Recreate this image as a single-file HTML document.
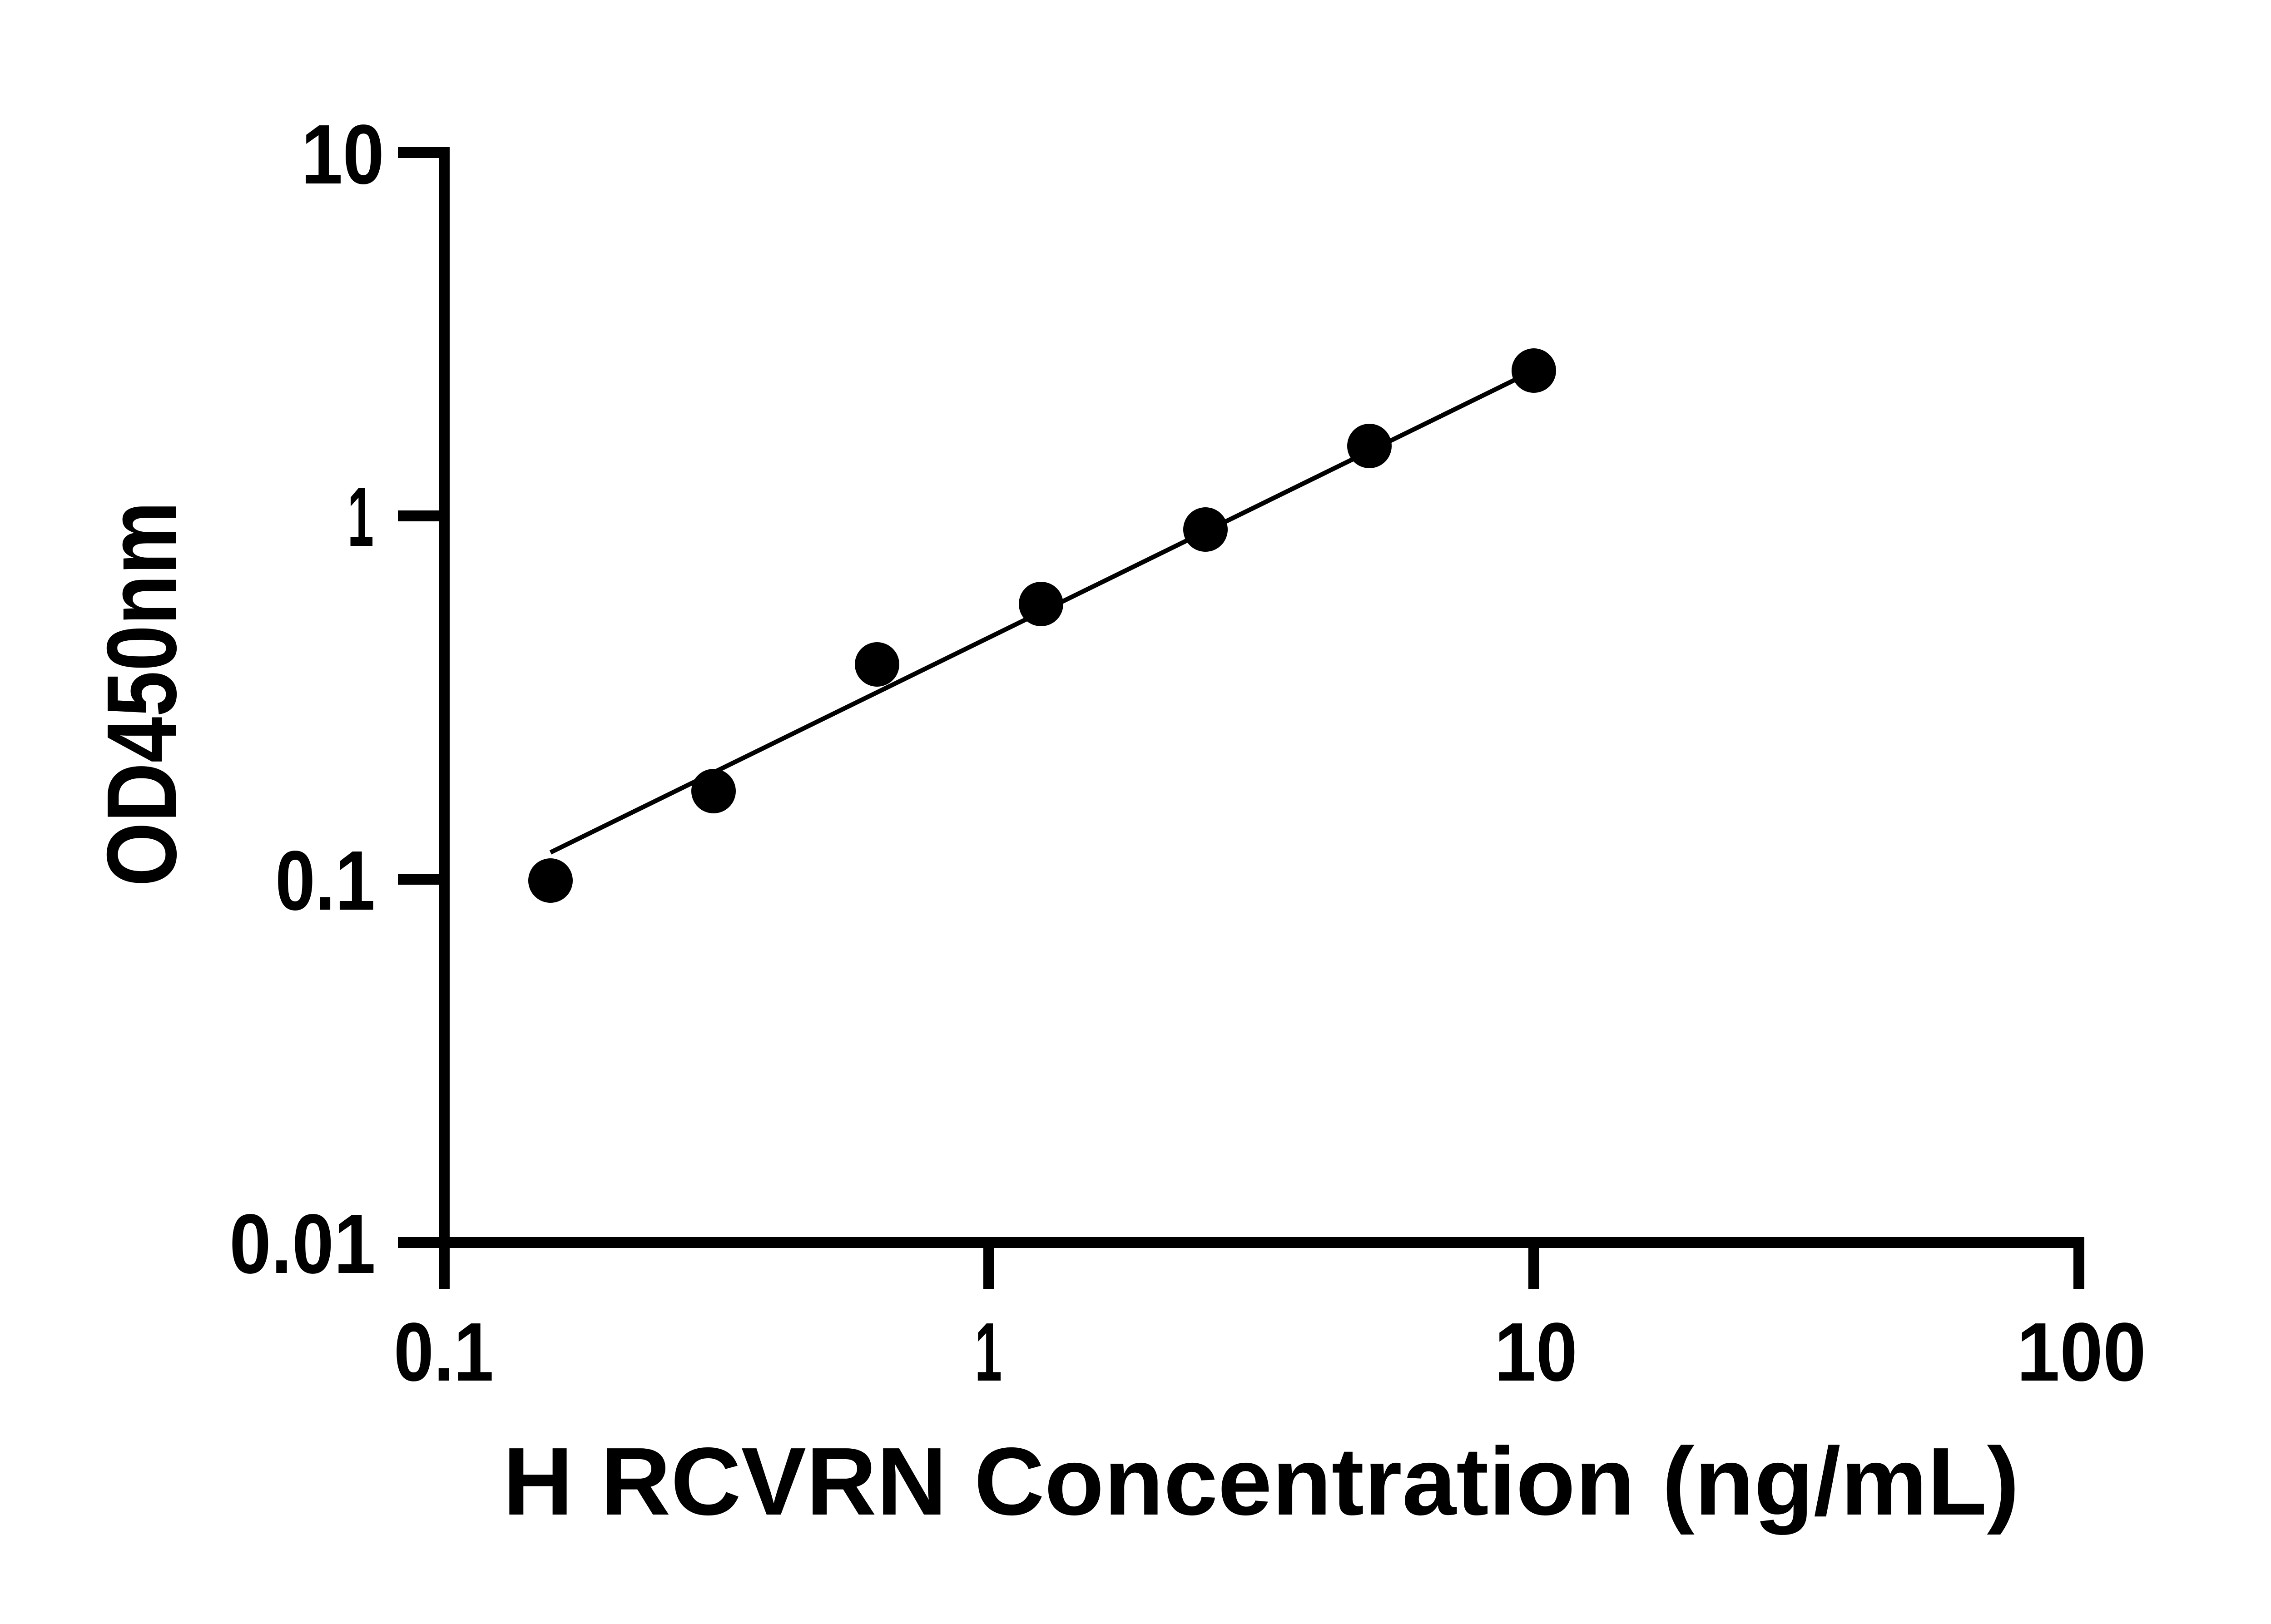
<!DOCTYPE html>
<html><head><meta charset="utf-8"><style>
html,body{margin:0;padding:0;background:#fff;}
svg{display:block;}
text{font-family:"Liberation Sans","DejaVu Sans",sans-serif;font-weight:bold;fill:#000;}
</style></head><body>
<svg width="5130" height="3576" viewBox="0 0 5130 3576" xmlns="http://www.w3.org/2000/svg">
<rect width="5130" height="3576" fill="#fff"/>
<!-- y axis -->
<rect x="966" y="324" width="24" height="2514" fill="#000"/>
<rect x="876" y="324" width="114" height="24" fill="#000"/>
<rect x="876" y="1124" width="100" height="24" fill="#000"/>
<rect x="876" y="1924" width="100" height="24" fill="#000"/>
<rect x="876" y="2724" width="100" height="24" fill="#000"/>
<!-- x axis -->
<rect x="966" y="2724" width="3623" height="24" fill="#000"/>
<rect x="966" y="2724" width="24" height="114" fill="#000"/>
<rect x="2165" y="2724" width="24" height="114" fill="#000"/>
<rect x="3365" y="2724" width="24" height="114" fill="#000"/>
<rect x="4565" y="2724" width="24" height="114" fill="#000"/>
<!-- y tick labels -->
<text x="663" y="404" font-size="186" textLength="183" lengthAdjust="spacingAndGlyphs">10</text>
<text x="765" y="1202" font-size="186" textLength="58" lengthAdjust="spacingAndGlyphs">1</text>
<text x="606" y="2003" font-size="186" textLength="220" lengthAdjust="spacingAndGlyphs">0.1</text>
<text x="505" y="2803" font-size="186" textLength="322" lengthAdjust="spacingAndGlyphs">0.01</text>
<!-- x tick labels -->
<text x="867" y="3040" font-size="183" textLength="220" lengthAdjust="spacingAndGlyphs">0.1</text>
<text x="2146" y="3040" font-size="183" textLength="60" lengthAdjust="spacingAndGlyphs">1</text>
<text x="3290" y="3040" font-size="183" textLength="183" lengthAdjust="spacingAndGlyphs">10</text>
<text x="4440" y="3040" font-size="183" textLength="285" lengthAdjust="spacingAndGlyphs">100</text>
<!-- axis titles -->
<text x="1107" y="3335" font-size="212" textLength="3339" lengthAdjust="spacingAndGlyphs">H RCVRN Concentration (ng/mL)</text>
<text transform="translate(387,1952) rotate(-90)" x="0" y="0" font-size="218" textLength="848" lengthAdjust="spacingAndGlyphs">OD450nm</text>
<!-- fit line -->
<line x1="1212" y1="1877" x2="3340" y2="834" stroke="#000" stroke-width="10"/>
<!-- points -->
<g fill="#000">
<circle cx="1212" cy="1939" r="49"/>
<circle cx="1571" cy="1742" r="49"/>
<circle cx="1931" cy="1463" r="49"/>
<circle cx="2292" cy="1330" r="49"/>
<circle cx="2654" cy="1166" r="49"/>
<circle cx="3015" cy="982" r="49"/>
<circle cx="3377" cy="816" r="49"/>
</g>
</svg>
</body></html>
